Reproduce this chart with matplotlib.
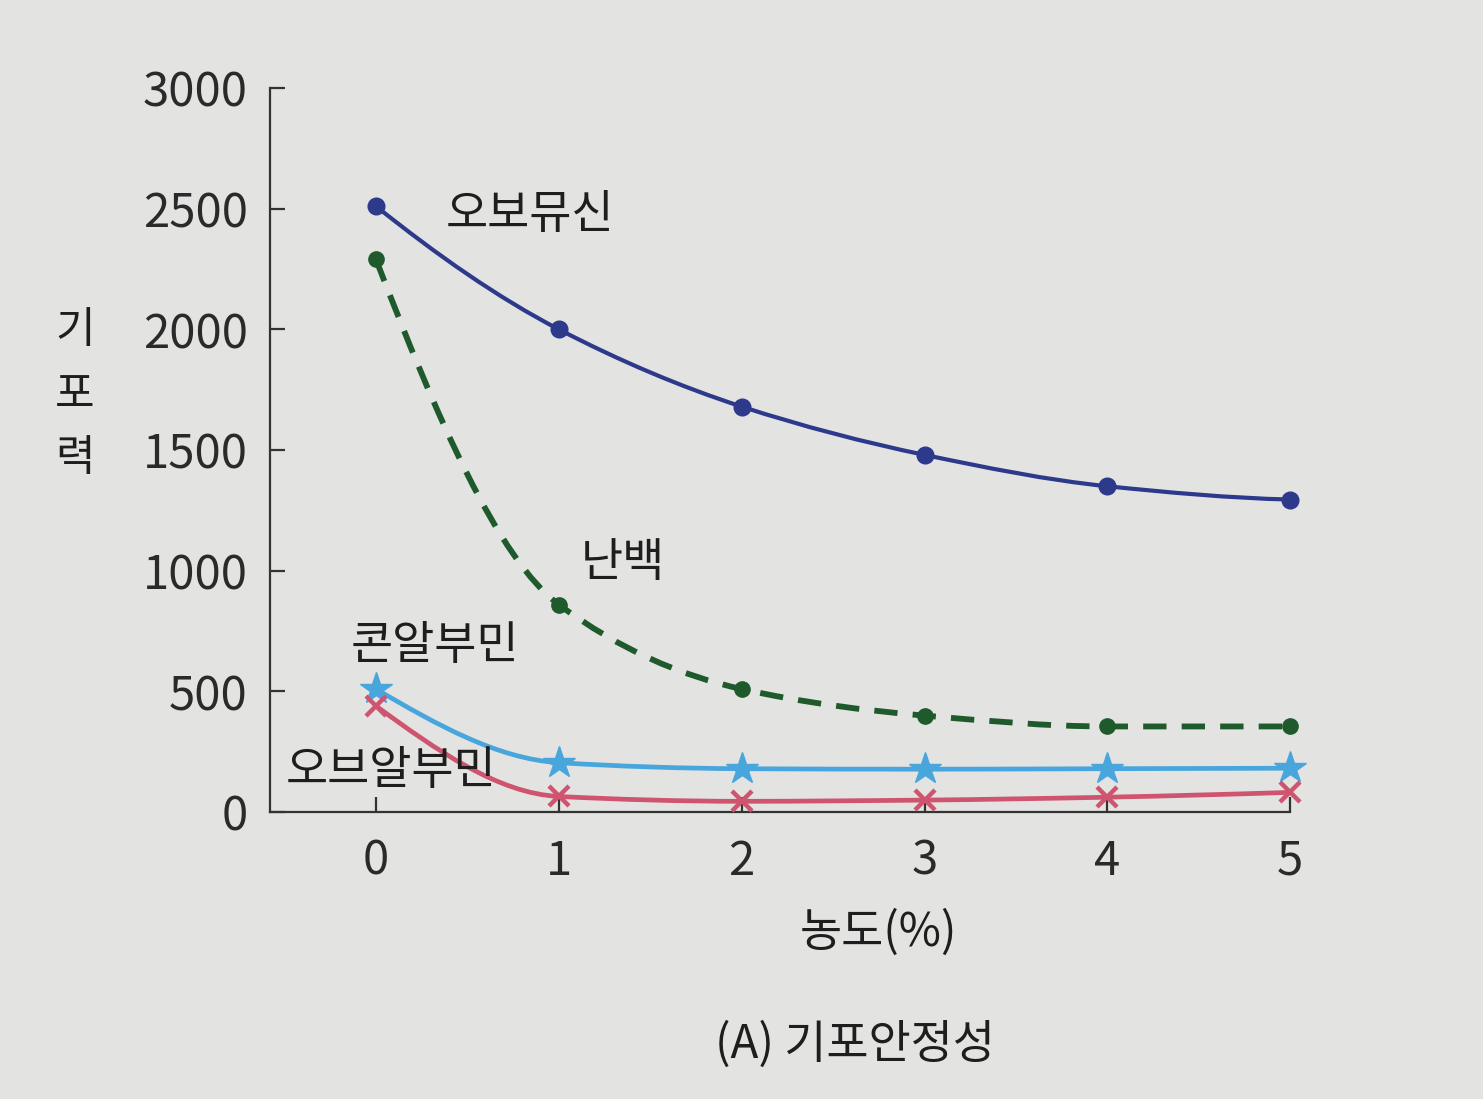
import numpy as np
import matplotlib
matplotlib.use("Agg")
import matplotlib.pyplot as plt
from matplotlib.path import Path
from matplotlib.patches import PathPatch

plt.rcParams['font.family'] = ['Noto Sans CJK KR', 'DejaVu Sans']

# 데이터
conc = [0, 1, 2, 3, 4, 5]
ovomucin = [2510, 2000, 1680, 1480, 1350, 1295]
egg_white = [2290, 860, 510, 400, 355, 355]
conalbumin = [510, 205, 180, 178, 180, 182]
ovalbumin = [440, 65, 45, 50, 62, 82]

xticks = [0, 1, 2, 3, 4, 5]
yticks = [0, 500, 1000, 1500, 2000, 2500, 3000]

BG = '#e3e4e2'
C_BLUE = '#2d3a8c'
C_GREEN = '#1f5a2c'
C_SKY = '#49a6dc'
C_RED = '#cf5470'


def end_slope(d0, d1):
    # pchip 끝점 기울기
    m = (3 * d0 - d1) / 2
    if np.sign(m) != np.sign(d0):
        return 0.0
    if np.sign(d0) != np.sign(d1) and abs(m) > abs(3 * d0):
        return 3 * d0
    return m


def smooth_path(x, y):
    """데이터 점을 지나는 부드러운 곡선 (monotone cubic bezier)"""
    x = np.asarray(x, float)
    y = np.asarray(y, float)
    d = np.diff(y) / np.diff(x)
    m = np.zeros_like(y)
    m[0] = end_slope(d[0], d[1])
    m[-1] = end_slope(d[-1], d[-2])
    for i in range(1, len(y) - 1):
        m[i] = 0 if d[i - 1] * d[i] <= 0 else 2 / (1 / d[i - 1] + 1 / d[i])
    verts = [(x[0], y[0])]
    codes = [Path.MOVETO]
    for i in range(len(x) - 1):
        h = x[i + 1] - x[i]
        verts += [(x[i] + h / 3, y[i] + m[i] * h / 3),
                  (x[i + 1] - h / 3, y[i + 1] - m[i + 1] * h / 3),
                  (x[i + 1], y[i + 1])]
        codes += [Path.CURVE4] * 3
    return Path(verts, codes)


fig = plt.figure(figsize=(14.83, 10.99), dpi=100, facecolor=BG)
ax = fig.add_axes([0.182, 0.261, 0.688, 0.659], facecolor=BG)

series = [
    (ovomucin, C_BLUE, '-', 3.0, 'o', 12),
    (egg_white, C_GREEN, (0, (4, 2.6)), 4.2, 'o', 11),
    (conalbumin, C_SKY, '-', 3.4, '*', 24),
    (ovalbumin, C_RED, '-', 3.4, 'x', 15),
]
for vals, col, ls, lw, mk, ms in series:
    ax.add_patch(PathPatch(smooth_path(conc, vals), fill=False, edgecolor=col,
                           linewidth=lw, linestyle=ls, capstyle='butt', zorder=2))
    ax.plot(conc, vals, linestyle='none', marker=mk, color=col, markersize=ms,
            markeredgewidth=3.2 if mk == 'x' else 1, zorder=3, clip_on=False)

ax.set_xlim(-0.58, 5)
ax.set_ylim(0, 3000)
ax.set_xticks(xticks)
ax.set_yticks(yticks)
for s in ['top', 'right']:
    ax.spines[s].set_visible(False)
for s in ['left', 'bottom']:
    ax.spines[s].set_linewidth(1.6)
    ax.spines[s].set_color('#333333')
ax.tick_params(axis='both', direction='in', length=11, width=1.6, colors='#333333',
               labelsize=34, labelcolor='#2a2a2a')
ax.tick_params(axis='y', pad=16)
ax.tick_params(axis='x', pad=18)
for t in ax.get_xticklabels() + ax.get_yticklabels():
    t.set_fontweight('light')

lab = dict(fontsize=33, color='#1e1e1e', ha='center', va='center', fontweight='light')
ax.text(0.84, 2475, '오보뮤신', **lab)
ax.text(1.35, 1035, '난백', **lab)
ax.text(0.32, 690, '콘알부민', **lab)
ax.text(0.08, 170, '오브알부민', **lab)

fig.text(75 / 1483, 1 - 395 / 1099, '기\n포\n력', fontsize=31, color='#1e1e1e',
         ha='center', va='center', linespacing=1.6, fontweight='light')
fig.text(878 / 1483, 1 - 933 / 1099, '농도(%)', fontsize=33, color='#1e1e1e',
         ha='center', va='center', fontweight='light')
fig.text(855 / 1483, 1 - 1045 / 1099, '(A) 기포안정성', fontsize=33, color='#1e1e1e',
         ha='center', va='center', fontweight='light')

fig.savefig('out.png', dpi=100, facecolor=BG)
